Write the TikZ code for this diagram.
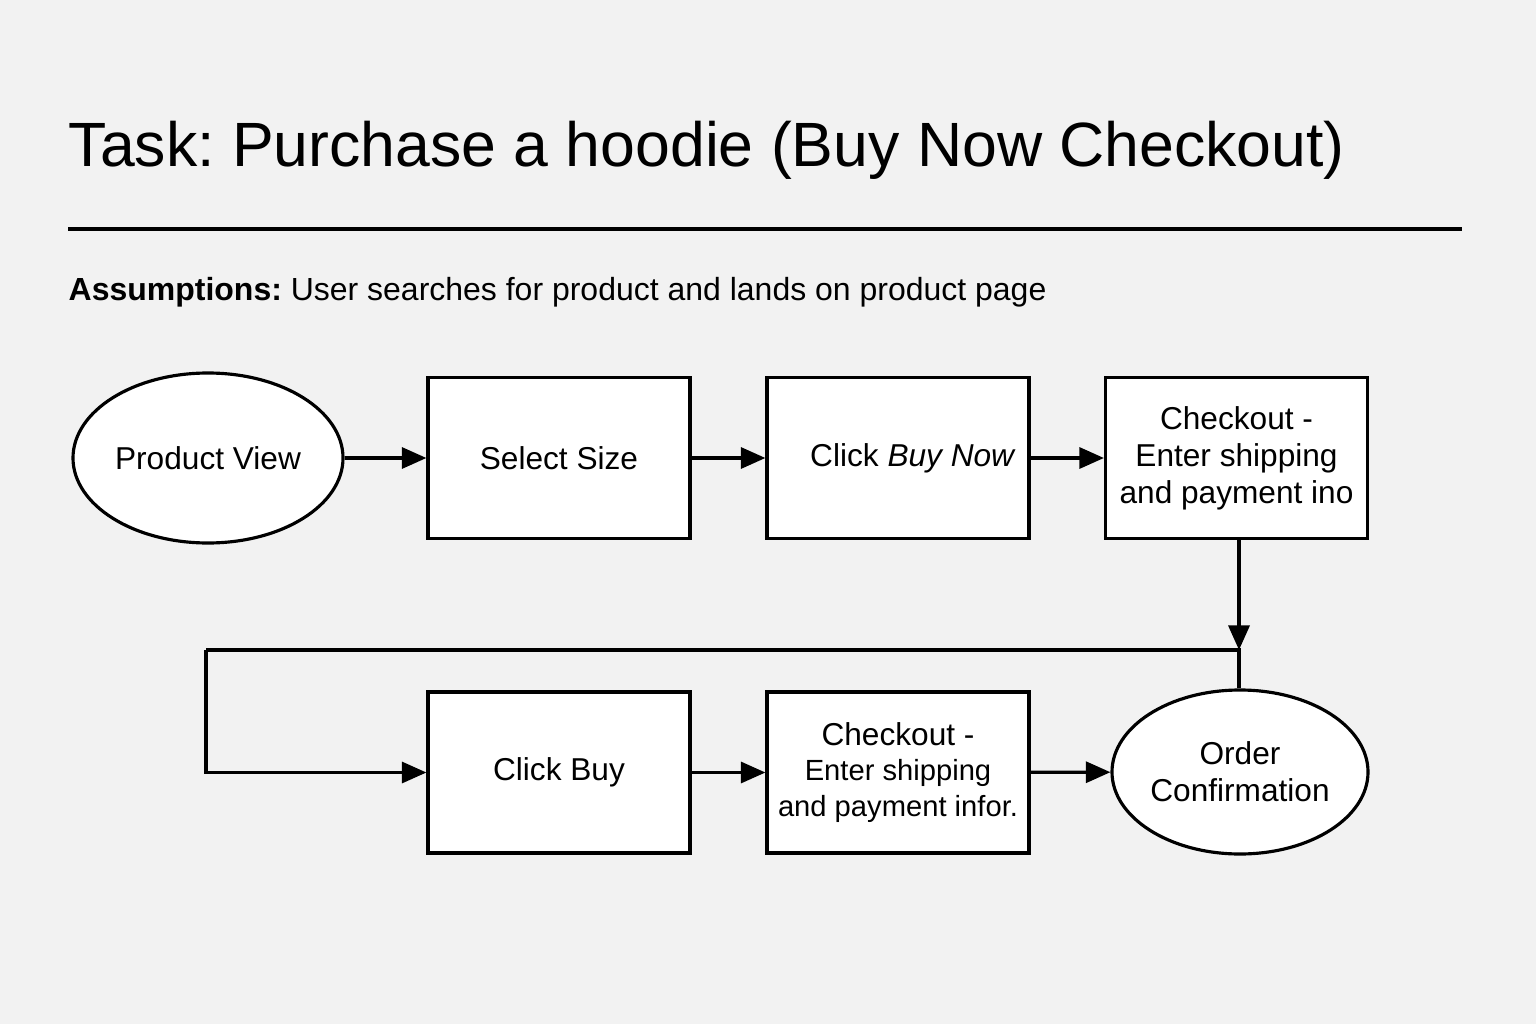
\documentclass[tikz,border=0pt]{standalone}
\usepackage{fontspec}
\setmainfont{Liberation Sans}
\usetikzlibrary{arrows.meta,shapes.geometric}
\tikzset{
  stepbox/.style={draw, line width=0.9pt, fill=white, minimum width=2.62cm, minimum height=1.61cm, inner sep=1pt, align=center, font=\fontsize{9}{10.5}\selectfont},
  endnode/.style={draw, ellipse, line width=0.9pt, fill=white, inner sep=0pt, align=center, font=\fontsize{9}{10.5}\selectfont},
  flow/.style={line width=0.9pt, -{Triangle[length=7pt,width=6pt]}}
}
\frenchspacing
\begin{document}
\begin{tikzpicture}
  \fill[gray!10] (0,0) rectangle (15.36,10.24);
  \useasboundingbox (0,0) rectangle (15.36,10.24);
  % heading
  \node[anchor=west, inner sep=0, font=\fontsize{17.8}{20}\selectfont] (title) at (0.68,8.74) {Task: Purchase a hoodie (Buy Now Checkout)};
  \draw[line width=0.9pt] (0.68,7.95) -- (14.62,7.95);
  \node[anchor=west, inner sep=0, font=\fontsize{9.1}{11}\selectfont] (assume) at (0.68,7.32) {\textbf{Assumptions:} User searches for product and lands on product page};
  % first row
  \node[endnode, minimum width=2.7cm, minimum height=1.7cm] (view) at (2.08,5.66) {Product View};
  \node[stepbox] (size) at (5.59,5.66) {Select Size};
  \node[stepbox] (buynow) at (8.98,5.66) {\hspace{3mm}Click \textit{Buy Now}};
  \node[stepbox] (check1) at (12.365,5.66) {Checkout -\\Enter shipping\\and payment ino};
  % second row
  \node[stepbox] (buy) at (5.59,2.515) {Click Buy};
  \node[stepbox, font=\fontsize{8.3}{10}\selectfont] (check2) at (8.98,2.515) {{\fontsize{9}{10.5}\selectfont Checkout -}\\Enter shipping\\and payment infor.};
  \node[endnode, minimum width=2.56cm, minimum height=1.64cm] (order) at (12.40,2.52) {Order\\Confirmation};
  \coordinate (turn) at (12.39,3.74);
  \coordinate (corner) at (2.06,3.74);
  \draw[flow] (view) -- (size);
  \draw[flow] (size) -- (buynow);
  \draw[flow] (buynow) -- (check1);
  \draw[flow] (check1.south -| turn) -- (turn);
  \draw[line width=0.9pt] (order.north -| turn) -- (turn) -- (corner);
  \draw[flow] (corner) |- (buy.west);
  \draw[flow] (buy) -- (check2);
  \draw[flow] (check2) -- (order);
\end{tikzpicture}
\end{document}
